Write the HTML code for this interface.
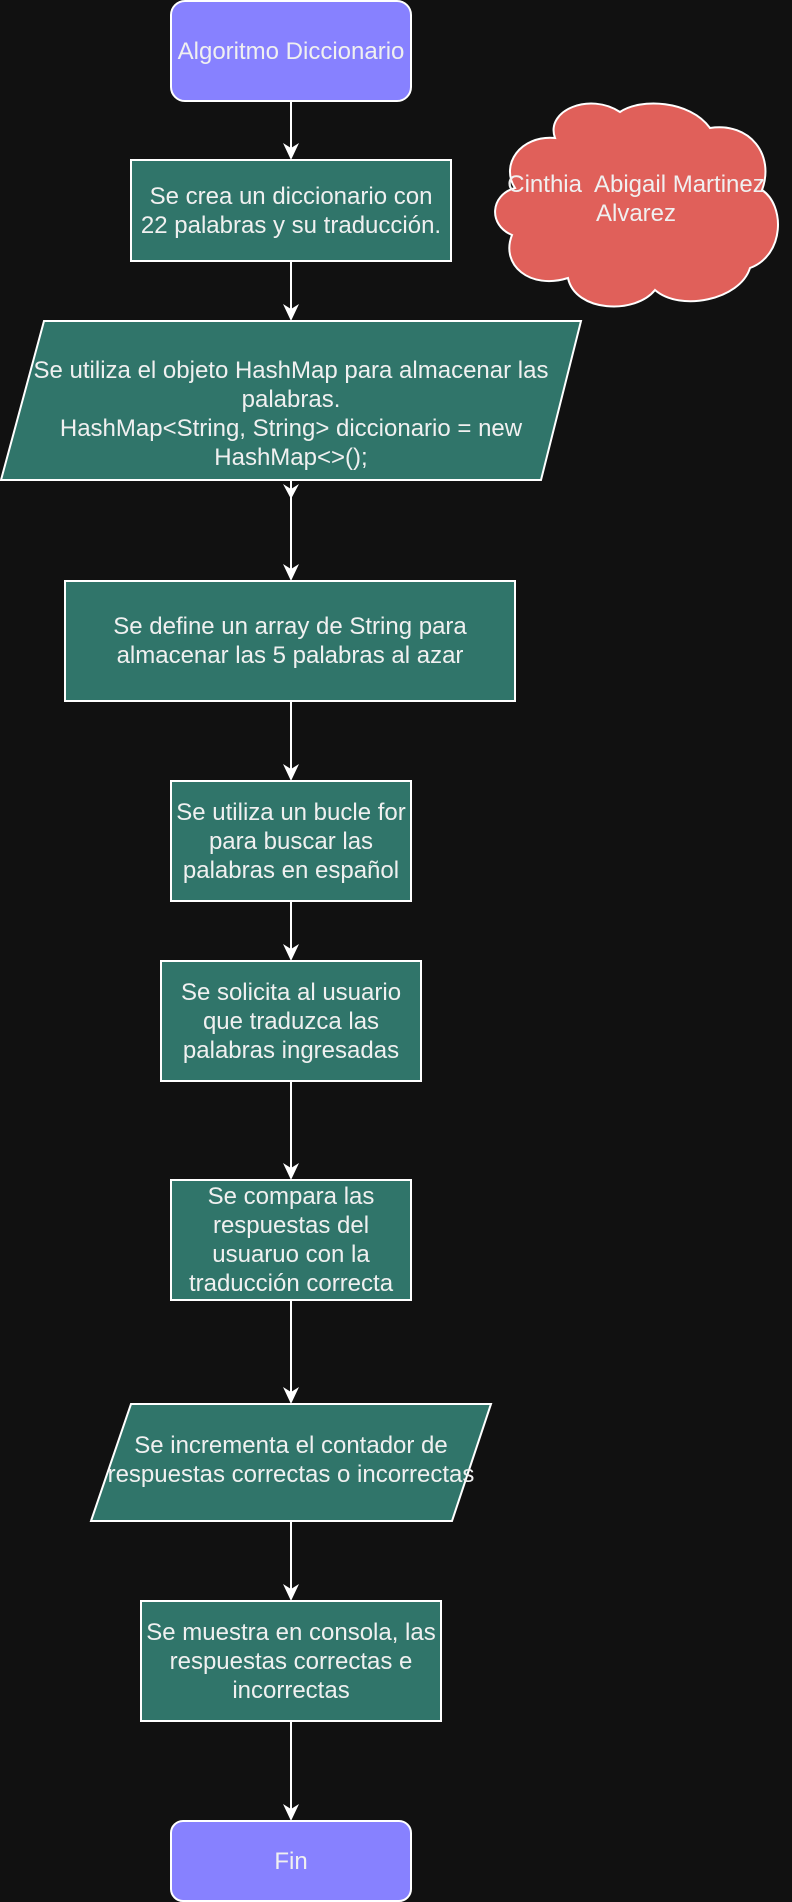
<!DOCTYPE html>
<html><head><meta charset="utf-8"><style>
html,body{margin:0;padding:0;background:#111111;}
body{width:792px;height:1902px;position:relative;overflow:hidden;font-family:"Liberation Sans",Arial,sans-serif;}
svg{position:absolute;left:0;top:0;}
.t{position:absolute;display:flex;align-items:center;justify-content:center;text-align:center;color:#f0f0f0;font-size:24px;line-height:29px;white-space:nowrap;}
</style></head><body>
<svg width="792" height="1902" viewBox="0 0 792 1902">
<g stroke="#fff" stroke-width="2">
<line x1="291" y1="101" x2="291" y2="150"/>
<line x1="291" y1="261" x2="291" y2="311"/>
<line x1="291" y1="480" x2="291" y2="571"/>
<line x1="291" y1="701" x2="291" y2="771"/>
<line x1="291" y1="901" x2="291" y2="951"/>
<line x1="291" y1="1081" x2="291" y2="1170"/>
<line x1="291" y1="1300" x2="291" y2="1394"/>
<line x1="291" y1="1521" x2="291" y2="1591"/>
<line x1="291" y1="1721" x2="291" y2="1811"/>
</g>
<g fill="#fff">
<path d="M283,143 L291,160 L299,143 L291,148 Z"/>
<path d="M283,304 L291,321 L299,304 L291,309 Z"/>
<path d="M283,484 L291,499 L299,484 L291,489 Z"/>
<path d="M283,564 L291,581 L299,564 L291,569 Z"/>
<path d="M283,764 L291,781 L299,764 L291,769 Z"/>
<path d="M283,944 L291,961 L299,944 L291,949 Z"/>
<path d="M283,1163 L291,1180 L299,1163 L291,1168 Z"/>
<path d="M283,1387 L291,1404 L299,1387 L291,1392 Z"/>
<path d="M283,1584 L291,1601 L299,1584 L291,1589 Z"/>
<path d="M283,1804 L291,1821 L299,1804 L291,1809 Z"/>
</g>
<rect x="171" y="1" width="240" height="100" rx="14" fill="#8781ff" stroke="#fff" stroke-width="2"/>
<rect x="131" y="160" width="320" height="101" fill="#30756a" stroke="#fff" stroke-width="2"/>
<polygon points="44,321 581,321 541,480 1,480" fill="#30756a" stroke="#fff" stroke-width="2"/>
<rect x="65" y="581" width="450" height="120" fill="#30756a" stroke="#fff" stroke-width="2"/>
<rect x="171" y="781" width="240" height="120" fill="#30756a" stroke="#fff" stroke-width="2"/>
<rect x="161" y="961" width="260" height="120" fill="#30756a" stroke="#fff" stroke-width="2"/>
<rect x="171" y="1180" width="240" height="120" fill="#30756a" stroke="#fff" stroke-width="2"/>
<polygon points="131,1404 491,1404 452,1521 91,1521" fill="#30756a" stroke="#fff" stroke-width="2"/>
<rect x="141" y="1601" width="300" height="120" fill="#30756a" stroke="#fff" stroke-width="2"/>
<rect x="171" y="1821" width="240" height="80" rx="12" fill="#8781ff" stroke="#fff" stroke-width="2"/>
<path d="M555,138 C545,110 590,92 620,112 C640,98 690,100 710,128 C750,122 775,155 762,190 C785,205 785,255 750,268 C740,300 680,312 655,290 C635,315 575,312 568,278 C530,290 500,265 512,235 C488,225 490,195 515,188 C500,165 520,135 555,138 Z" fill="#e0605a" stroke="#fff" stroke-width="2"/>
</svg>
<div class="t" style="left:491px;top:170px;width:290px;height:29px;">Cinthia&nbsp; Abigail Martinez</div>
<div class="t" style="left:491px;top:199px;width:290px;height:29px;">Alvarez</div>
<div class="t" style="left:171px;top:1px;width:240px;height:100px;">Algoritmo Diccionario</div>
<div class="t" style="left:131px;top:160px;width:320px;height:101px;">Se crea un diccionario con<br>22 palabras y su traducción.</div>
<div class="t" style="left:1px;top:356px;width:580px;height:116px;align-items:flex-start;">Se utiliza el objeto HashMap para almacenar las<br>palabras.<br>HashMap&lt;String, String&gt; diccionario = new<br>HashMap&lt;&gt;();</div>
<div class="t" style="left:65px;top:581px;width:450px;height:120px;">Se define un array de String para<br>almacenar las 5 palabras al azar</div>
<div class="t" style="left:171px;top:781px;width:240px;height:120px;">Se utiliza un bucle for<br>para buscar las<br>palabras en español</div>
<div class="t" style="left:161px;top:961px;width:260px;height:120px;">Se solicita al usuario<br>que traduzca las<br>palabras ingresadas</div>
<div class="t" style="left:171px;top:1180px;width:240px;height:120px;">Se compara las<br>respuestas del<br>usuaruo con la<br>traducción correcta</div>
<div class="t" style="left:91px;top:1415px;width:400px;height:90px;">Se incrementa el contador de<br>respuestas correctas o incorrectas</div>
<div class="t" style="left:141px;top:1601px;width:300px;height:120px;">Se muestra en consola, las<br>respuestas correctas e<br>incorrectas</div>
<div class="t" style="left:171px;top:1821px;width:240px;height:80px;">Fin</div>
</body></html>
